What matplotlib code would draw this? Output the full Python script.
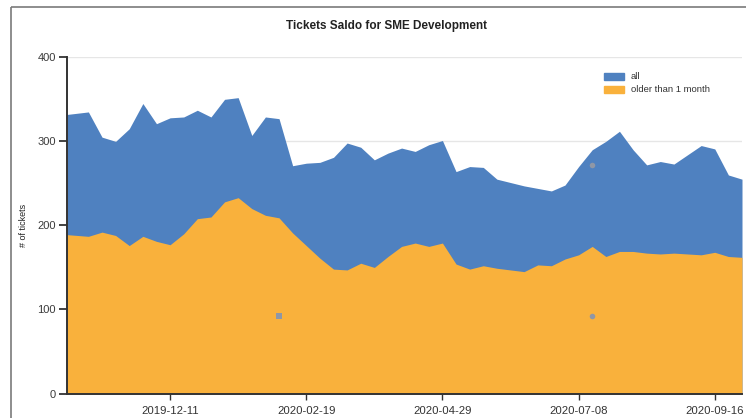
import matplotlib
matplotlib.use("Agg")
import matplotlib.pyplot as plt
import matplotlib.patches as mpatches
from matplotlib.lines import Line2D
import pandas as pd

plt.rcParams['font.family'] = ['Liberation Sans', 'DejaVu Sans']

# ---- data ----
first_date = "2019-10-19"
dates = [pd.Timestamp(first_date)] + list(pd.date_range("2019-10-30", "2020-09-30", freq="7D"))

all_tickets = [332, 335, 305, 300, 315, 345, 321, 328, 329, 337,
               329, 350, 352, 307, 329, 327, 271, 274, 275, 281,
               298, 293, 278, 286, 292, 288, 296, 301, 264, 270,
               269, 255, 251, 247, 244, 241, 248, 270, 290, 300,
               312, 290, 272, 276, 273, 284, 295, 291, 260, 255]

older_than_month = [189, 187, 192, 188, 176, 187, 181, 177, 190, 208,
                    210, 228, 233, 220, 212, 209, 191, 176, 161, 148,
                    147, 155, 150, 163, 175, 179, 175, 179, 154, 148,
                    152, 149, 147, 145, 153, 152, 160, 165, 175, 163,
                    169, 169, 167, 166, 167, 166, 165, 168, 163, 162]

tick_labels = ["2019-12-11", "2020-02-19", "2020-04-29", "2020-07-08", "2020-09-16"]
y_ticks = [0, 100, 200, 300, 400]

# stray hover markers visible in the chart
marker_sq_dates = ["2020-02-05"]
marker_sq_values = [92]
marker_ci_dates = ["2020-07-15", "2020-07-15"]
marker_ci_values = [92, 272]

series_labels = ["all", "older than 1 month"]

BLUE = "#4f81c0"
ORANGE = "#f9b13c"

W, H = 755, 418
fig = plt.figure(figsize=(W / 100, H / 100), dpi=100)

# outer frame (left and top edges only visible)
fig.add_artist(Line2D([11 / W, 11 / W], [0, 1 - 7 / H], transform=fig.transFigure,
                      color="#7a7a7a", linewidth=1.2, solid_capstyle="butt"))
fig.add_artist(Line2D([11 / W, 746 / W], [1 - 7 / H, 1 - 7 / H], transform=fig.transFigure,
                      color="#7a7a7a", linewidth=1.2, solid_capstyle="butt"))

ax = fig.add_axes([67 / W, 1 - 393.5 / H, (742 - 67) / W, (393.5 - 57.3) / H])

ax.fill_between(dates, 0, all_tickets, color=BLUE, linewidth=0, zorder=2)
ax.fill_between(dates, 0, older_than_month, color=ORANGE, linewidth=0, zorder=3)

ax.scatter(pd.to_datetime(marker_sq_dates), marker_sq_values, marker="s", s=14,
           color="#8f97a6", zorder=5, linewidths=0)
ax.scatter(pd.to_datetime(marker_ci_dates), marker_ci_values, marker="o", s=16,
           color="#8f97a6", zorder=5, linewidths=0)

ax.set_xlim(dates[0], dates[-1])
ax.set_ylim(0, 400)
ax.set_yticks(y_ticks)
ax.set_yticklabels([str(v) for v in y_ticks], fontsize=8, color="#3a3a3a")
ax.set_xticks(pd.to_datetime(tick_labels))
ax.set_xticklabels(tick_labels, fontsize=8.2, color="#333333")

for y in [100, 200, 300, 400]:
    ax.axhline(y, color="#e6e6e6", linewidth=1, zorder=1)

for s in ["top", "right"]:
    ax.spines[s].set_visible(False)
for s in ["left", "bottom"]:
    ax.spines[s].set_color("#333333")
    ax.spines[s].set_linewidth(1.4)
    ax.spines[s].set_zorder(6)
ax.tick_params(axis="y", length=6, width=1.3, color="#333333", pad=2)
ax.tick_params(axis="x", length=4, width=1.0, color="#333333", pad=5)

fig.text(23 / W, 1 - 225 / H, "# of tickets", rotation=90, fontsize=6.5,
         color="#222222", ha="center", va="center")
fig.text(386 / W, 1 - 26 / H, "Tickets Saldo for SME Development", fontsize=8.5,
         fontweight="bold", color="#222222", ha="center", va="center")

# legend
for i, (lab, col) in enumerate(zip(series_labels, [BLUE, ORANGE])):
    yc = 76.5 + i * 12.8
    fig.patches.append(mpatches.Rectangle((604 / W, 1 - (yc + 3.5) / H), 20 / W, 7 / H,
                                          transform=fig.transFigure, color=col))
    fig.text(631 / W, 1 - yc / H, lab, fontsize=6.8, color="#333333", va="center", ha="left")

fig.savefig("out.png", dpi=100, facecolor="white")
